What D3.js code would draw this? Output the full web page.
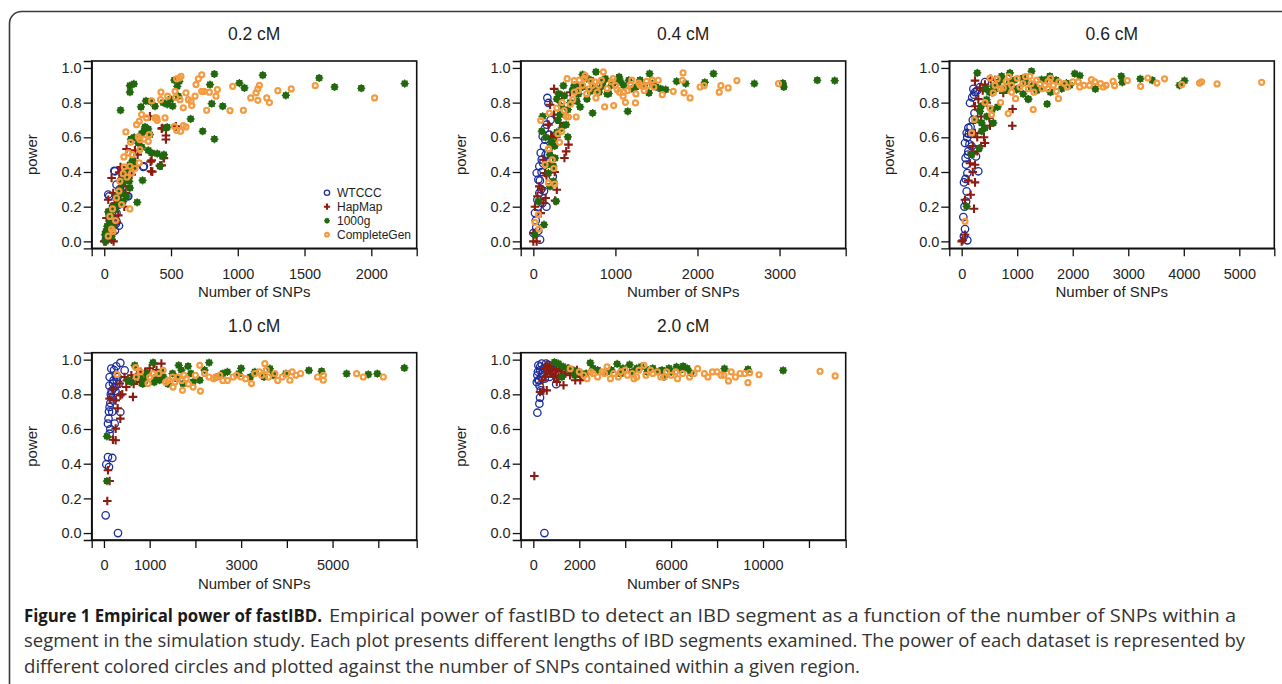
<!DOCTYPE html>
<html><head><meta charset="utf-8">
<script src="https://cdn.jsdelivr.net/npm/d3@7"></script>
<style>
html,body{margin:0;padding:0;background:#fff;}
svg{display:block;}
</style></head>
<body>
<svg id="chart" width="1282" height="684"></svg>
<script>
// ---------------- DATA ----------------
const panelTitles = ["0.2 cM", "0.4 cM", "0.6 cM", "1.0 cM", "2.0 cM"];
const seriesNames = ["WTCCC", "HapMap", "1000g", "CompleteGen"];
const yTicks = [0, 0.2, 0.4, 0.6, 0.8, 1.0];
const yLimits = [-0.04, 1.04];
const xLimits = [[-94, 2340], [-154, 3806], [-223, 5630], [-268, 6840], [-550, 13600]];
const xTicks = [
  [0, 500, 1000, 1500, 2000],
  [0, 1000, 2000, 3000],
  [0, 1000, 2000, 3000, 4000, 5000],
  [0, 1000, 2000, 3000, 4000, 5000, 6000],
  [0, 2000, 4000, 6000, 8000, 10000, 12000]
];
const xTickLabels = [
  ["0", "500", "1000", "1500", "2000"],
  ["0", "1000", "2000", "3000"],
  ["0", "1000", "2000", "3000", "4000", "5000"],
  ["0", "1000", "", "3000", "", "5000", ""],
  ["0", "2000", "", "6000", "", "10000", ""]
];

// 0.2 cM
const p1_WTCCC = [[12,0.01],[20,0.02],[30,0.27],[37,0.26],[42,0.058],[55,0.13],[67,0.2],[75,0.407],[80,0.062],[80,0.404],[87,0.102],[92,0.115],[92,0.163],[92,0.327],[100,0.24],[110,0.09],[115,0.3],[130,0.26],[137,0.313],[150,0.36],[175,0.26],[180,0.26],[292,0.429],[297,0.433],[60,0.17],[45,0.1],[105,0.21],[125,0.35]];
const p1_HapMap = [[0,0.0],[12,0.0],[17,0.135],[30,0.24],[37,0.067],[42,0.183],[55,0.01],[55,0.365],[67,0.048],[67,0.279],[80,0.22],[92,0.106],[105,0.15],[112,0.398],[117,0.231],[122,0.429],[142,0.317],[160,0.28],[167,0.533],[185,0.417],[205,0.385],[230,0.525],[250,0.5],[342,0.721],[347,0.46],[350,0.404],[355,0.467],[360,0.402],[417,0.437],[430,0.438],[430,0.65],[435,0.654],[447,0.48],[462,0.61],[462,0.587],[537,0.663],[70,0.0],[25,0.02],[150,0.2]];
const p1_1000g = [[5,0.038],[12,0.058],[22,0.087],[42,0.115],[47,0.144],[67,0.087],[67,0.2],[80,0.183],[92,0.26],[105,0.21],[117,0.298],[122,0.756],[130,0.275],[137,0.337],[142,0.231],[155,0.375],[167,0.26],[167,0.413],[187,0.346],[192,0.308],[192,0.442],[192,0.86],[192,0.898],[200,0.59],[212,0.467],[217,0.461],[222,0.908],[225,0.6],[230,0.433],[247,0.225],[255,0.567],[275,0.775],[280,0.544],[280,0.621],[287,0.352],[297,0.636],[305,0.66],[312,0.81],[330,0.525],[330,0.648],[342,0.615],[347,0.806],[355,0.51],[380,0.779],[397,0.506],[417,0.433],[437,0.49],[442,0.8],[447,0.5],[462,0.654],[472,0.658],[472,0.79],[497,0.82],[512,0.78],[525,0.93],[547,0.894],[555,0.837],[562,0.923],[647,0.706],[737,0.635],[792,0.904],[805,0.794],[825,0.59],[825,0.965],[887,0.779],[1012,0.913],[1050,0.885],[1187,0.958],[1360,0.842],[1610,0.942],[1725,0.89],[1925,0.883],[2250,0.91],[10,0.0],[30,0.17],[55,0.03]];
const p1_CompleteGen = [[42,0.144],[62,0.187],[67,0.058],[55,0.07],[30,0.03],[92,0.25],[117,0.346],[130,0.212],[142,0.39],[147,0.487],[162,0.631],[180,0.51],[192,0.187],[192,0.433],[197,0.571],[205,0.394],[242,0.673],[255,0.602],[262,0.452],[262,0.692],[267,0.529],[267,0.587],[280,0.731],[297,0.59],[317,0.712],[330,0.577],[337,0.615],[355,0.81],[380,0.712],[392,0.712],[397,0.698],[422,0.817],[425,0.86],[455,0.712],[475,0.837],[525,0.663],[530,0.865],[535,0.83],[542,0.64],[542,0.937],[562,0.942],[567,0.817],[572,0.635],[575,0.952],[592,0.667],[592,0.77],[612,0.66],[612,0.856],[630,0.817],[650,0.808],[655,0.783],[680,0.837],[687,0.904],[705,0.937],[730,0.96],[730,0.865],[747,0.865],[767,0.756],[787,0.86],[837,0.837],[847,0.875],[942,0.754],[962,0.894],[1042,0.756],[1097,0.827],[1137,0.856],[1150,0.88],[1150,0.813],[1162,0.9],[1217,0.827],[1237,0.8],[1300,0.869],[1400,0.879],[1580,0.898],[2025,0.827],[110,0.29],[85,0.12],[150,0.43],[230,0.42],[210,0.5],[170,0.37]];

// 0.4 cM
const p2_WTCCC = [[0,0.048],[20,0.163],[41,0.394],[49,0.24],[61,0.356],[73,0.279],[73,0.433],[82,0.01],[90,0.51],[102,0.471],[114,0.606],[130,0.548],[143,0.587],[163,0.673],[171,0.827],[184,0.798],[196,0.615],[237,0.375],[30,0.12],[55,0.2],[95,0.3],[120,0.45],[150,0.5],[60,0.06],[35,0.08],[110,0.22],[100,0.4],[80,0.35],[130,0.29],[160,0.2],[180,0.5],[210,0.7],[140,0.65]];
const p2_HapMap = [[0,0.0],[0,0.048],[20,0.2],[73,0.317],[90,0.163],[122,0.221],[122,0.471],[143,0.394],[184,0.673],[204,0.788],[216,0.606],[224,0.548],[253,0.879],[253,0.731],[265,0.235],[286,0.298],[326,0.683],[379,0.481],[400,0.519],[428,0.558],[539,0.898],[50,0.26],[100,0.3],[160,0.38],[230,0.6],[40,0.0],[300,0.82],[280,0.6],[350,0.84],[450,0.86],[200,0.45],[150,0.25],[260,0.4]];
const p2_1000g = [[20,0.038],[102,0.635],[114,0.721],[130,0.096],[184,0.394],[204,0.317],[216,0.558],[224,0.577],[245,0.433],[245,0.346],[265,0.48],[277,0.231],[286,0.629],[286,0.821],[306,0.852],[326,0.731],[347,0.654],[367,0.898],[400,0.673],[420,0.602],[481,0.875],[530,0.808],[571,0.775],[600,0.89],[600,0.962],[653,0.821],[694,0.865],[722,0.74],[763,0.977],[836,0.894],[877,0.938],[918,0.852],[1045,0.948],[1061,0.923],[1150,0.75],[1163,0.929],[1306,0.917],[1408,0.856],[1416,0.967],[1497,0.89],[1612,0.875],[1746,0.923],[1856,0.91],[2089,0.917],[2195,0.967],[2693,0.91],[3040,0.913],[3052,0.89],[3460,0.929],[3672,0.927],[150,0.6],[260,0.55],[340,0.78],[450,0.8],[700,0.93],[800,0.86],[950,0.9],[1250,0.89],[1350,0.9],[60,0.23],[500,0.9],[550,0.85],[650,0.94],[750,0.89],[850,0.92],[900,0.85],[1000,0.92],[1100,0.9],[1200,0.88],[1300,0.93],[1450,0.91],[1550,0.88],[380,0.84],[420,0.76],[300,0.7],[200,0.5],[160,0.44]];
const p2_CompleteGen = [[20,0.11],[61,0.154],[69,0.071],[90,0.698],[143,0.442],[184,0.337],[184,0.533],[196,0.74],[286,0.769],[318,0.571],[347,0.635],[375,0.754],[412,0.938],[428,0.717],[481,0.817],[498,0.927],[522,0.717],[632,0.956],[702,0.923],[763,0.827],[853,0.977],[869,0.775],[971,0.938],[979,0.783],[1020,0.875],[1094,0.837],[1122,0.802],[1183,0.904],[1244,0.798],[1285,0.913],[1338,0.894],[1379,0.923],[1469,0.89],[1522,0.929],[1571,0.846],[1705,0.865],[1816,0.929],[1824,0.971],[1836,0.856],[1910,0.827],[2032,0.89],[2081,0.898],[2265,0.86],[2285,0.898],[2374,0.885],[2480,0.927],[2987,0.91],[550,0.87],[600,0.9],[650,0.85],[750,0.92],[800,0.9],[900,0.88],[1050,0.86],[1250,0.85],[1300,0.9],[230,0.47],[260,0.33],[450,0.79],[500,0.86],[560,0.93],[620,0.94],[680,0.88],[720,0.9],[780,0.86],[830,0.93],[950,0.92],[1000,0.9],[1100,0.86],[1150,0.87],[1200,0.93],[1350,0.87],[1400,0.9],[1450,0.93],[350,0.8],[400,0.72],[300,0.62],[250,0.42]];

// 0.6 cM
const p3_WTCCC = [[30,0.14],[42,0.34],[60,0.071],[60,0.567],[78,0.442],[90,0.625],[90,0.288],[102,0.006],[102,0.394],[120,0.654],[120,0.519],[150,0.798],[180,0.548],[210,0.879],[222,0.846],[258,0.49],[299,0.404],[419,0.919],[50,0.2],[70,0.48],[100,0.6],[130,0.62],[160,0.66],[240,0.86],[200,0.7],[40,0.03],[80,0.23],[70,0.36],[110,0.5],[140,0.56],[170,0.62],[190,0.83],[230,0.74],[280,0.87],[330,0.89]];
const p3_HapMap = [[0,0.0],[18,0.006],[60,0.038],[60,0.24],[162,0.269],[180,0.51],[222,0.188],[240,0.34],[240,0.442],[240,0.625],[240,0.779],[240,0.927],[299,0.76],[329,0.885],[401,0.6],[419,0.567],[419,0.904],[497,0.712],[509,0.667],[521,0.938],[749,0.856],[911,0.667],[917,0.763],[120,0.35],[200,0.55],[150,0.45],[280,0.52],[350,0.72],[300,0.82],[380,0.87],[450,0.8],[550,0.86],[600,0.93],[280,0.6],[350,0.55],[200,0.4]];
const p3_1000g = [[90,0.202],[180,0.5],[281,0.971],[317,0.538],[329,0.75],[359,0.683],[359,0.635],[419,0.654],[437,0.879],[449,0.817],[569,0.683],[569,0.894],[647,0.775],[719,0.952],[869,0.971],[880,0.913],[988,0.875],[1108,0.942],[1108,0.85],[1198,0.821],[1258,0.981],[1438,0.933],[1539,0.792],[1587,0.952],[1887,0.913],[2036,0.967],[2126,0.956],[2408,0.879],[2875,0.952],[2893,0.917],[3217,0.937],[3432,0.929],[3923,0.9],[4013,0.927],[500,0.86],[650,0.9],[800,0.88],[950,0.93],[1300,0.9],[1400,0.88],[1700,0.93],[250,0.7],[600,0.88],[700,0.93],[750,0.87],[850,0.91],[1000,0.88],[1150,0.92],[1200,0.82],[1250,0.89],[1350,0.87],[1500,0.93],[1600,0.86],[1800,0.88],[1950,0.9],[350,0.78],[450,0.72],[550,0.76]];
const p3_CompleteGen = [[60,0.115],[180,0.625],[228,0.702],[509,0.942],[509,0.769],[539,0.731],[569,0.856],[641,0.937],[749,0.885],[839,0.737],[970,0.823],[1228,0.952],[1288,0.76],[1408,0.908],[1557,0.923],[1707,0.865],[1743,0.823],[2126,0.89],[2336,0.933],[2726,0.923],[2755,0.898],[2983,0.927],[3223,0.894],[3354,0.942],[3516,0.913],[3654,0.937],[3965,0.904],[4283,0.913],[4320,0.92],[4600,0.908],[5403,0.917],[800,0.92],[900,0.9],[1000,0.94],[1100,0.91],[1200,0.88],[1350,0.93],[1500,0.9],[1650,0.9],[1850,0.91],[2000,0.92],[2200,0.9],[2500,0.91],[2600,0.9],[420,0.8],[700,0.8],[1050,0.89],[1150,0.95],[1250,0.91],[1300,0.86],[1450,0.88],[1550,0.88],[1600,0.94],[1750,0.92],[1900,0.89],[2100,0.92],[2300,0.9],[2400,0.92],[2550,0.89],[700,0.88],[600,0.9],[900,0.86],[850,0.95]];

// 1.0 cM
const p4_WTCCC = [[37,0.102],[51,0.396],[88,0.631],[88,0.438],[110,0.381],[124,0.9],[124,0.727],[124,0.573],[161,0.948],[161,0.785],[183,0.433],[197,0.862],[234,0.631],[270,0.962],[307,0],[358,0.981],[358,0.698],[453,0.938],[150,0.8],[180,0.7],[210,0.88],[100,0.66],[140,0.6],[250,0.82],[300,0.9],[120,0.85],[170,0.82],[200,0.77],[230,0.84],[280,0.88],[320,0.86],[110,0.7],[140,0.75],[260,0.91],[220,0.94]];
const p4_HapMap = [[73,0.185],[88,0.362],[124,0.3],[124,0.775],[197,0.538],[256,0.535],[256,0.602],[256,0.765],[343,0.862],[358,0.794],[358,0.66],[489,0.842],[599,0.91],[635,0.785],[781,0.871],[1095,0.977],[1256,0.977],[300,0.72],[200,0.83],[450,0.9],[900,0.93],[500,0.88],[700,0.9],[800,0.93],[1000,0.95],[1150,0.94],[400,0.8],[650,0.86],[950,0.92]];
const p4_1000g = [[66,0.558],[66,0.3],[526,0.881],[672,0.967],[781,0.9],[927,0.919],[1073,0.983],[1219,0.881],[1635,0.967],[1694,0.94],[1730,0.862],[1840,0.962],[1949,0.871],[2095,0.881],[2300,0.983],[2460,0.9],[2949,0.919],[3628,0.948],[3979,0.919],[4482,0.938],[4760,0.933],[5307,0.919],[5782,0.915],[5979,0.919],[6570,0.952],[600,0.87],[900,0.88],[1300,0.9],[1500,0.92],[2700,0.93],[3200,0.9],[3500,0.9],[700,0.9],[1100,0.87],[1150,0.9],[1400,0.86],[1600,0.89],[1900,0.92],[2200,0.94],[2600,0.92],[3000,0.95],[3300,0.93],[3700,0.91],[850,0.86],[1250,0.93]];
const p4_CompleteGen = [[285,0.915],[694,0.954],[708,0.9],[964,0.862],[1073,0.919],[1292,0.938],[1511,0.842],[1621,0.9],[1716,0.823],[1949,0.842],[2095,0.967],[2110,0.819],[2533,0.91],[2825,0.9],[3227,0.862],[3519,0.977],[3738,0.919],[4066,0.881],[4117,0.929],[4672,0.9],[4796,0.881],[4800,0.91],[5526,0.919],[5672,0.9],[6110,0.9],[1400,0.88],[1800,0.89],[2300,0.9],[2600,0.88],[3000,0.9],[3300,0.92],[3600,0.9],[3900,0.9],[4000,0.92],[2000,0.91],[1500,0.9],[1550,0.87],[1700,0.88],[1750,0.91],[1850,0.86],[2200,0.92],[2400,0.89],[2450,0.9],[2700,0.88],[2900,0.91],[3100,0.89],[3400,0.93],[3450,0.91],[3550,0.94],[3800,0.88],[4200,0.91],[4300,0.92],[1200,0.92],[1350,0.87],[1000,0.9],[800,0.93]];

// 2.0 cM
const p5_WTCCC = [[175,0.694],[175,0.91],[219,0.881],[219,0.967],[263,0.746],[292,0.781],[292,0.938],[321,0.823],[365,0.977],[482,0],[555,0.977],[993,0.858],[250,0.88],[400,0.92],[600,0.95],[700,0.9],[800,0.93],[150,0.87],[300,0.96],[350,0.9],[450,0.95],[500,0.89],[650,0.97],[750,0.96],[900,0.94],[200,0.93],[270,0.85]];
const p5_HapMap = [[44,0.329],[292,0.813],[438,0.823],[511,0.9],[584,0.823],[730,0.948],[1022,0.871],[1168,0.962],[1314,0.852],[1533,0.948],[1825,0.881],[2044,0.881],[600,0.93],[800,0.92],[900,0.9],[1000,0.94],[1200,0.93],[400,0.88],[1400,0.92],[700,0.96],[500,0.95],[600,0.97],[700,0.92],[850,0.95],[950,0.91],[1100,0.9],[1250,0.95],[1600,0.91],[1700,0.93],[2100,0.9],[1900,0.94]];
const p5_1000g = [[920,0.985],[1095,0.977],[1241,0.9],[1752,0.938],[2482,0.981],[3650,0.975],[3796,0.919],[4190,0.971],[4964,0.929],[5475,0.933],[5694,0.9],[6234,0.958],[6526,0.962],[6862,0.923],[8322,0.948],[9344,0.944],[10877,0.938],[1500,0.95],[2000,0.93],[2800,0.94],[3200,0.93],[4500,0.95],[5000,0.94],[6000,0.93],[1300,0.96],[1800,0.91],[2300,0.92],[2600,0.95],[3400,0.94],[3900,0.95],[4300,0.93],[4700,0.96],[5200,0.95],[5600,0.94],[5900,0.95],[6400,0.94],[6700,0.95]];
const p5_CompleteGen = [[1606,0.948],[2336,0.89],[3212,0.958],[3358,0.89],[4380,0.89],[4818,0.967],[5548,0.9],[6278,0.89],[7154,0.948],[7446,0.919],[8176,0.91],[8497,0.877],[8614,0.929],[9344,0.867],[9417,0.925],[9826,0.913],[12483,0.933],[13140,0.906],[2000,0.93],[2600,0.92],[3000,0.93],[3800,0.93],[4100,0.91],[4600,0.94],[5200,0.92],[5800,0.93],[6500,0.92],[7800,0.93],[9000,0.92],[2200,0.91],[2500,0.93],[2800,0.9],[3100,0.92],[3500,0.92],[3700,0.9],[4000,0.94],[4300,0.92],[4500,0.9],[4900,0.91],[5100,0.94],[5400,0.93],[5700,0.9],[6000,0.91],[6200,0.93],[6800,0.9],[7000,0.92],[7600,0.9],[8000,0.93],[8300,0.91],[8800,0.9],[9200,0.92]];

const captionBold = "Figure 1 Empirical power of fastIBD.";
const captionLines = [
  "Empirical power of fastIBD to detect an IBD segment as a function of the number of SNPs within a",
  "segment in the simulation study. Each plot presents different lengths of IBD segments examined. The power of each dataset is represented by",
  "different colored circles and plotted against the number of SNPs contained within a given region."
];

const panelData = [
  [p1_WTCCC, p1_HapMap, p1_1000g, p1_CompleteGen],
  [p2_WTCCC, p2_HapMap, p2_1000g, p2_CompleteGen],
  [p3_WTCCC, p3_HapMap, p3_1000g, p3_CompleteGen],
  [p4_WTCCC, p4_HapMap, p4_1000g, p4_CompleteGen],
  [p5_WTCCC, p5_HapMap, p5_1000g, p5_CompleteGen]
];

// ---------------- LAYOUT / STYLE ----------------
const colors = {WTCCC: "#1b2d9c", HapMap: "#8c1c12", "1000g": "#23680f", CompleteGen: "#f49a3f"};
const boxLefts = [91.7, 520.7, 949.3];
const boxTops = [61, 352.7];
const boxW = 325, boxH = 187.3;
const textColor = "#1e1e1e";
const FONT = "'Liberation Sans', Arial, Helvetica, sans-serif";

const svg = d3.select("#chart");
svg.append("rect").attr("width", 1282).attr("height", 684).attr("fill", "#fff");

// outer rounded frame
svg.append("rect").attr("x", 9.5).attr("y", 11.5).attr("width", 1320).attr("height", 720)
  .attr("rx", 12).attr("fill", "none").attr("stroke", "#3a3a3a").attr("stroke-width", 1.6);

function drawMarker(g, name, x, y, scale) {
  const s = scale || 1;
  const c = colors[name];
  if (name === "WTCCC") {
    g.append("circle").attr("cx", x).attr("cy", y).attr("r", 3.7 * s)
      .attr("fill", "none").attr("stroke", c).attr("stroke-width", 1.3);
  } else if (name === "HapMap") {
    const a = 4.3 * s;
    g.append("path").attr("d", `M${x - a},${y}H${x + a}M${x},${y - a}V${y + a}`)
      .attr("stroke", c).attr("stroke-width", 2.1).attr("fill", "none");
  } else if (name === "1000g") {
    g.append("circle").attr("cx", x).attr("cy", y).attr("r", 3.4 * s).attr("fill", c);
    const a = 4.1 * s, b = a * 0.7071;
    g.append("path").attr("d", `M${x - a},${y}H${x + a}M${x},${y - a}V${y + a}M${x - b},${y - b}L${x + b},${y + b}M${x - b},${y + b}L${x + b},${y - b}`)
      .attr("stroke", c).attr("stroke-width", 1.2).attr("fill", "none");
  } else {
    g.append("circle").attr("cx", x).attr("cy", y).attr("r", 2.5 * s)
      .attr("fill", "none").attr("stroke", c).attr("stroke-width", 2.2);
  }
}

panelTitles.forEach((title, i) => {
  const left = boxLefts[i % 3];
  const top = boxTops[Math.floor(i / 3)];
  const x = d3.scaleLinear().domain(xLimits[i]).range([left, left + boxW]);
  const y = d3.scaleLinear().domain(yLimits).range([top + boxH, top]);
  const g = svg.append("g");

  const pg = g.append("g");
  panelData[i].forEach((arr, si) => {
    const name = seriesNames[si];
    arr.forEach(d => drawMarker(pg, name, x(d[0]), y(d[1])));
  });

  g.append("rect").attr("x", left).attr("y", top).attr("width", boxW).attr("height", boxH)
    .attr("fill", "none").attr("stroke", "#111").attr("stroke-width", 1.6);

  const xAxis = d3.axisBottom(x).tickValues(xTicks[i])
    .tickFormat((d, k) => xTickLabels[i][k]).tickSize(8).tickPadding(12);
  const xa = g.append("g").attr("transform", `translate(0,${top + boxH})`).call(xAxis);
  xa.select(".domain").attr("stroke", "#111").attr("stroke-width", 1.3);
  xa.selectAll(".tick line").attr("stroke", "#111").attr("stroke-width", 1.3);
  xa.selectAll("text").attr("font-family", FONT).attr("font-size", 14.5).attr("fill", textColor);

  const yAxis = d3.axisLeft(y).tickValues(yTicks).tickFormat(d3.format(".1f")).tickSize(8).tickPadding(2);
  const ya = g.append("g").attr("transform", `translate(${left},0)`).call(yAxis);
  ya.select(".domain").attr("stroke", "#111").attr("stroke-width", 1.3);
  ya.selectAll(".tick line").attr("stroke", "#111").attr("stroke-width", 1.3);
  ya.selectAll("text").attr("font-family", FONT).attr("font-size", 14.5).attr("fill", textColor);

  g.append("text").attr("x", left + boxW / 2).attr("y", top - 21)
    .attr("text-anchor", "middle").attr("font-family", FONT).attr("font-size", 17.5)
    .attr("fill", textColor).text(title);
  g.append("text").attr("x", left + boxW / 2).attr("y", top + boxH + 49)
    .attr("text-anchor", "middle").attr("font-family", FONT).attr("font-size", 15)
    .attr("fill", textColor).text("Number of SNPs");
  g.append("text").attr("transform", `translate(${left - 55},${top + boxH / 2}) rotate(-90)`)
    .attr("text-anchor", "middle").attr("font-family", FONT).attr("font-size", 15)
    .attr("fill", textColor).text("power");

  if (i === 0) {
    const lg = g.append("g");
    seriesNames.forEach((name, k) => {
      const ly = 192.7 + k * 14;
      drawMarker(lg, name, 327, ly, 0.72);
      lg.append("text").attr("x", 337).attr("y", ly + 4.3).attr("font-family", FONT)
        .attr("font-size", 12).attr("fill", textColor).text(name);
    });
  }
});

// caption
const CFONT = "'Open Sans', 'Noto Sans', sans-serif";
svg.append("text").attr("x", 24).attr("y", 622).attr("font-family", CFONT).attr("font-weight", 700)
  .attr("font-size", 17.5).attr("fill", "#1a1a1a").attr("textLength", 298).attr("lengthAdjust", "spacingAndGlyphs")
  .text(captionBold);
const capLen = [907, 1221, 836];
const capX = [329, 24, 24];
captionLines.forEach((t, k) => {
  svg.append("text").attr("x", capX[k]).attr("y", 622 + k * 25.3).attr("font-family", CFONT)
    .attr("font-weight", 400).attr("font-size", 17.5).attr("fill", "#333")
    .attr("textLength", capLen[k]).attr("lengthAdjust", "spacingAndGlyphs").text(t);
});
</script>
</body></html>
